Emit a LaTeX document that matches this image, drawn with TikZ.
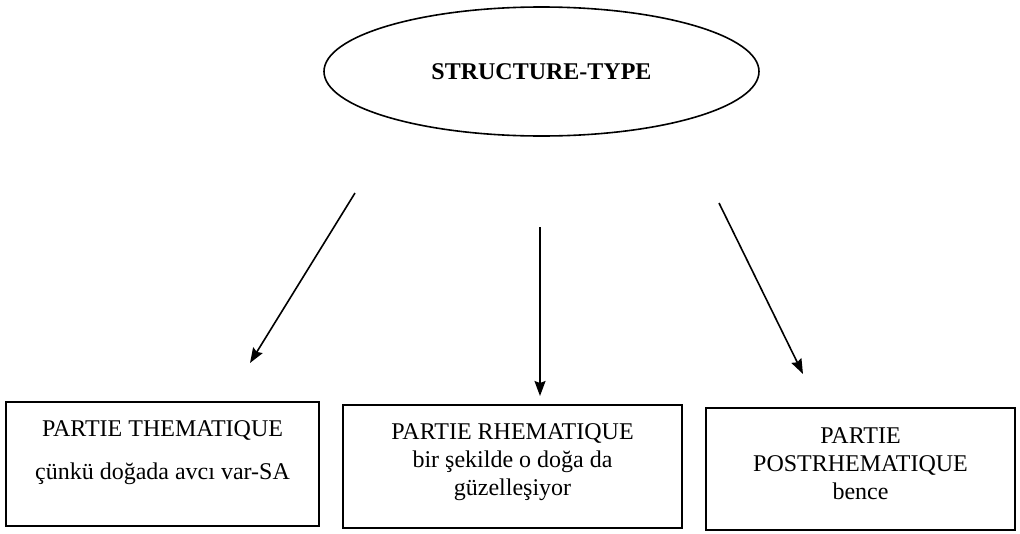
\documentclass[tikz,border=0pt]{standalone}
\usepackage{fontspec}
\setmainfont{Liberation Serif}
\usepackage{tikz}
\usetikzlibrary{shapes.geometric}
\usetikzlibrary{arrows.meta}
\usetikzlibrary{positioning}
\tikzset{partbox/.style={draw=black, line width=1.6pt, rectangle, inner sep=0pt},
txt/.style={align=center, inner sep=0pt, font=\fontsize{24}{28}\selectfont},
arr/.style={line width=1.6pt, -{Stealth[length=15pt,width=11pt,inset=2pt]}}}

\begin{document}
\begin{tikzpicture}[x=1pt,y=-1pt]
\useasboundingbox (0,0) rectangle (1020,533);
% top
\node[draw=black, line width=1.6pt, ellipse, minimum width=435pt, minimum height=129pt, font=\fontsize{24}{28}\selectfont\bfseries] (stype) at (541.5,71.5) {STRUCTURE-TYPE};

% parts
\node[partbox, minimum width=313pt, minimum height=124pt] (thbox) at (162.5,464) {};
\node[partbox, minimum width=339pt, minimum height=123pt] (rhbox) at (512.5,466.5) {};
\node[partbox, minimum width=309pt, minimum height=122pt] (postbox) at (860.5,469) {};

\node[txt, below=19pt of thbox.north] (thtext) {PARTIE THEMATIQUE\\[15pt]çünkü doğada avcı var-SA};
\node[txt, below=19pt of rhbox.north] (rhtext) {PARTIE RHEMATIQUE\\bir şekilde o doğa da\\güzelleşiyor};
\node[txt, below=20pt of postbox.north] (posttext) {PARTIE\\POSTRHEMATIQUE\\bence};

% arrows
\coordinate (thfrom) at (355,193);
\coordinate (thto) at (250,363);
\coordinate (rhfrom) at (540,227);
\coordinate (rhto) at (540,396);
\coordinate (postfrom) at (719,203);
\coordinate (postto) at (803,374);
\foreach \a/\b in {thfrom/thto, rhfrom/rhto, postfrom/postto}
     \draw[arr] (\a) -- (\b);

\end{tikzpicture}
\end{document}
